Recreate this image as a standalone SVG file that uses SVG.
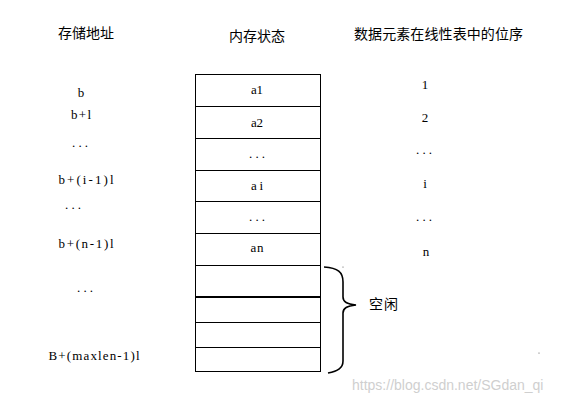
<svg xmlns="http://www.w3.org/2000/svg" width="577" height="405" viewBox="0 0 577 405">
<style>
.h{font-family:"Noto Sans CJK SC","Noto Sans CJK JP",sans-serif;font-size:14px;fill:#000}
.m{font-family:"Liberation Serif","Times New Roman",serif;font-size:13px;fill:#000;text-anchor:middle}
.cell{fill:#fff;stroke:#000;stroke-width:1}
.wm{font-family:"Liberation Sans",Arial,sans-serif;font-size:14px;fill:#cfcfcf}
</style>
<rect width="577" height="405" fill="#fff"/>
<g id="headers">
<text class="h" x="58" y="38" textLength="56">存储地址</text>
<text class="h" x="229" y="41" textLength="56">内存状态</text>
<text class="h" x="354" y="39" textLength="169">数据元素在线性表中的位序</text>
</g>
<g id="addresses">
<text class="m" x="81" y="97">b</text>
<text class="m" x="81" y="119" textLength="20">b+l</text>
<text class="m" x="80" y="147" textLength="16">...</text>
<text class="m" x="86" y="184" textLength="55">b+(i-1)l</text>
<text class="m" x="73" y="209" textLength="16">...</text>
<text class="m" x="86" y="248" textLength="55">b+(n-1)l</text>
<text class="m" x="85" y="292" textLength="16">...</text>
<text class="m" x="94" y="360" textLength="91">B+(maxlen-1)l</text>
</g>
<g id="memory">
<rect class="cell" x="195.5" y="74.5" width="125" height="297"/>
<g stroke="#000" stroke-width="1">
<line x1="195" y1="106.5" x2="321" y2="106.5"/>
<line x1="195" y1="138.5" x2="321" y2="138.5"/>
<line x1="195" y1="170.5" x2="321" y2="170.5"/>
<line x1="195" y1="201.5" x2="321" y2="201.5"/>
<line x1="195" y1="233.5" x2="321" y2="233.5"/>
<line x1="195" y1="265.5" x2="321" y2="265.5"/>
<line x1="195" y1="297" x2="321" y2="297" stroke-width="2"/>
<line x1="195" y1="322.5" x2="321" y2="322.5"/>
<line x1="195" y1="347.5" x2="321" y2="347.5"/>
</g>
<text class="m" x="257" y="94" textLength="12">a1</text>
<text class="m" x="257" y="127" textLength="12">a2</text>
<text class="m" x="257" y="158" textLength="16">...</text>
<text class="m" x="257" y="190" textLength="12">ai</text>
<text class="m" x="257" y="221" textLength="16">...</text>
<text class="m" x="257" y="252" textLength="13">an</text>
</g>
<g id="positions">
<text class="m" x="425" y="89">1</text>
<text class="m" x="425" y="122">2</text>
<text class="m" x="424" y="154" textLength="16">...</text>
<text class="m" x="425" y="188">i</text>
<text class="m" x="424" y="221" textLength="16">...</text>
<text class="m" x="426" y="256">n</text>
</g>
<g id="connectors">
<path d="M324,267 C338,268 343,272 343,282 L343,297 C343,302 347,304 356,305 C347,306 343,308 343,313 L343,361 C343,368 338,371 328,373" fill="none" stroke="#000" stroke-width="1.6"/>
</g>
<g id="free">
<text class="h" x="369" y="309" font-size="15" textLength="29">空闲</text>
</g>
<circle cx="343" cy="267" r="0.6" fill="#555"/>
<circle cx="539" cy="353" r="0.6" fill="#555"/>
<text class="wm" x="352" y="390">https://blog.csdn.net/SGdan_qi</text>
</svg>
